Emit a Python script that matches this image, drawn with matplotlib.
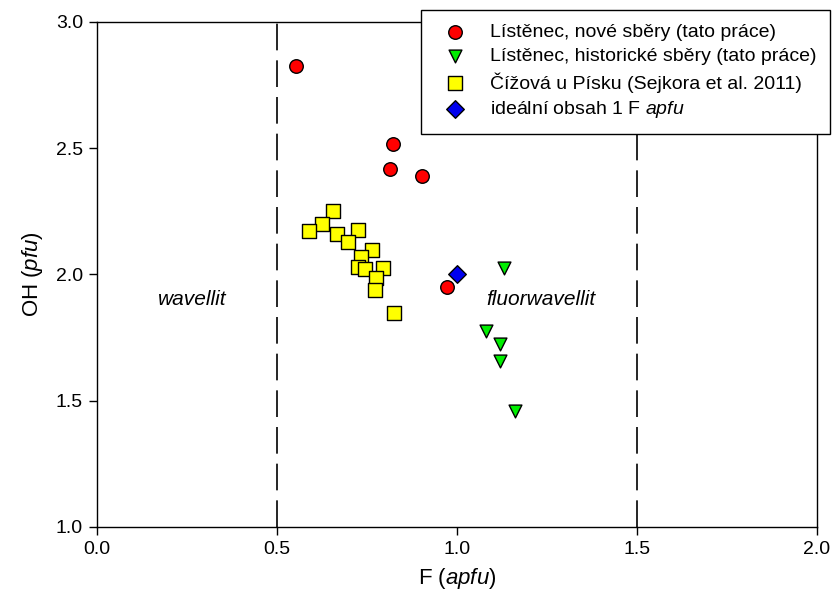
import matplotlib.pyplot as plt

plt.rcParams["font.family"] = ["Liberation Sans", "DejaVu Sans"]
plt.rcParams["mathtext.fontset"] = "custom"
plt.rcParams["mathtext.it"] = "Liberation Sans:italic"
plt.rcParams["mathtext.rm"] = "Liberation Sans"

# Lístěnec, nové sběry
new_f = [0.553, 0.822, 0.814, 0.903, 0.972]
new_oh = [2.826, 2.517, 2.418, 2.390, 1.950]

# Lístěnec, historické sběry
hist_f = [1.131, 1.081, 1.119, 1.119, 1.161]
hist_oh = [2.026, 1.776, 1.725, 1.657, 1.459]

# Čížová u Písku (Sejkora et al. 2011)
ciz_f = [0.656, 0.626, 0.590, 0.667, 0.726, 0.696, 0.763,
         0.732, 0.724, 0.744, 0.794, 0.775, 0.772, 0.826]
ciz_oh = [2.251, 2.201, 2.172, 2.162, 2.176, 2.130, 2.096,
          2.071, 2.029, 2.021, 2.026, 1.986, 1.937, 1.848]

# ideal
ideal_f = [1.0]
ideal_oh = [2.0]

boundaries = [0.5, 1.5]

fig = plt.figure(figsize=(8.34, 5.96), dpi=100)
ax = fig.add_axes([0.1163, 0.1158, 0.8633, 0.8473])

for b in boundaries:
    ax.axvline(b, color="black", lw=1.2, linestyle=(0, (16, 6)), zorder=1)

ax.scatter(new_f, new_oh, s=95, marker="o", facecolor="red", edgecolor="black",
           lw=1.0, zorder=3, label="Lístěnec, nové sběry (tato práce)")
ax.scatter(hist_f, hist_oh, s=85, marker="v", facecolor="#00ee00", edgecolor="black",
           lw=1.0, zorder=3, label="Lístěnec, historické sběry (tato práce)")
ax.scatter(ciz_f, ciz_oh, s=90, marker="s", facecolor="yellow", edgecolor="black",
           lw=1.0, zorder=3, label="Čížová u Písku (Sejkora et al. 2011)")
ax.scatter(ideal_f, ideal_oh, s=80, marker="D", facecolor="#0000ee", edgecolor="black",
           lw=1.0, zorder=4, label="ideální obsah 1 F $\\mathit{apfu}$")

ax.text(0.264, 1.90, "wavellit", style="italic", fontsize=15, ha="center", va="center")
ax.text(1.233, 1.90, "fluorwavellit", style="italic", fontsize=15, ha="center", va="center")

ax.set_xlim(0, 2.0)
ax.set_ylim(1.0, 3.0)
ax.set_xticks([0.0, 0.5, 1.0, 1.5, 2.0])
ax.set_yticks([1.0, 1.5, 2.0, 2.5, 3.0])
ax.set_xticklabels(["0.0", "0.5", "1.0", "1.5", "2.0"])
ax.set_yticklabels(["1.0", "1.5", "2.0", "2.5", "3.0"])
ax.tick_params(labelsize=14, length=6, width=1, direction="out", pad=4)
for s in ax.spines.values():
    s.set_linewidth(1)

ax.set_xlabel("F ($\\mathit{apfu}$)", fontsize=16, labelpad=6)
ax.set_ylabel("OH ($\\mathit{pfu}$)", fontsize=16, labelpad=8)

leg = ax.legend(loc="upper left", bbox_to_anchor=(421 / 834, 1 - 10 / 596),
                bbox_transform=fig.transFigure, fontsize=14, frameon=True,
                fancybox=False, edgecolor="black", borderpad=0.7,
                handlelength=2.1, handletextpad=0.76, labelspacing=0.34,
                borderaxespad=0, framealpha=1)
leg.get_frame().set_linewidth(1)
leg.set_zorder(5)

fig.savefig("out.png", dpi=100)
